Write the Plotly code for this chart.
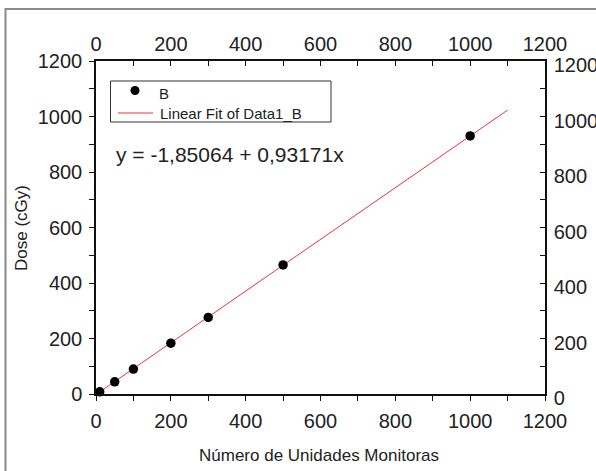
import plotly.graph_objects as go

# ---- data ----
mu = [10, 50, 100, 200, 300, 500, 1000]
dose = [8, 44, 90, 183, 276, 465, 930]
fit_x = [0, 1100]
intercept = -1.85064
slope = 0.93171
fit_y = [intercept + slope * v for v in fit_x]
xticks = [0, 200, 400, 600, 800, 1000, 1200]
yticks = [0, 200, 400, 600, 800, 1000, 1200]

W, H = 596, 471
L, R, T, B = 96, 545, 61, 394

def px(xp):
    return (xp - L) / (R - L)

def py(yp):
    return (B - yp) / (B - T)

FONT = "Liberation Sans, Arial, sans-serif"
TXT = "#222222"

fig = go.Figure()
fig.add_trace(go.Scatter(x=fit_x, y=fit_y, mode="lines",
                         line=dict(color="#ee3333", width=1),
                         showlegend=False, hoverinfo="skip"))
fig.add_trace(go.Scatter(x=mu, y=dose, mode="markers",
                         marker=dict(color="black", size=9.5),
                         cliponaxis=False, showlegend=False))
# invisible trace to activate the top/right axes
fig.add_trace(go.Scatter(x=[0], y=[0], xaxis="x2", yaxis="y2", mode="markers",
                         marker=dict(opacity=0), showlegend=False, hoverinfo="skip"))

ax_common = dict(range=[0, 1200], showgrid=False, zeroline=False, automargin=False,
                 showline=True, linecolor="#111111", linewidth=1.5,
                 tickcolor="#111111", tickwidth=1.2, ticklen=5,
                 tickfont=dict(family=FONT, size=20, color=TXT))

fig.update_layout(
    width=W, height=H,
    margin=dict(l=L, r=W - R, t=T, b=H - B, autoexpand=False),
    paper_bgcolor="white", plot_bgcolor="white",
    xaxis=dict(**ax_common, tickvals=xticks, ticks="outside", side="bottom",
               ticklabelstandoff=3,
               minor=dict(dtick=100, ticks="outside", ticklen=5, tickcolor="#111111")),
    xaxis2=dict(**ax_common, tickvals=xticks, ticks="inside", side="top",
                overlaying="x", anchor="y",
                minor=dict(dtick=100, ticks="inside", ticklen=5, tickcolor="#111111")),
    yaxis=dict(**ax_common, tickvals=yticks, ticks="outside", side="left",
               ticklabelstandoff=3,
               minor=dict(dtick=100, ticks="outside", ticklen=5, tickcolor="#111111")),
    yaxis2=dict(**ax_common, tickvals=yticks, ticks="inside", side="right",
                overlaying="y", anchor="x", ticklabelstandoff=3, ticklabelshift=4,
                minor=dict(dtick=100, ticks="inside", ticklen=5, tickcolor="#111111")),
)

shapes = []
# outer frame
shapes.append(dict(type="rect", xref="paper", yref="paper",
                   x0=px(5.5), x1=px(603), y0=py(9), y1=py(478),
                   line=dict(color="#8a8a8a", width=2), layer="below"))
# legend box
shapes.append(dict(type="rect", xref="paper", yref="paper",
                   x0=px(110.5), x1=px(331), y0=py(81), y1=py(122),
                   line=dict(color="#333333", width=1)))
# legend marker
shapes.append(dict(type="circle", xref="paper", yref="paper",
                   x0=px(130.5), x1=px(139.5), y0=py(86), y1=py(95),
                   fillcolor="black", line=dict(color="black", width=0)))
# legend line sample
shapes.append(dict(type="line", xref="paper", yref="paper",
                   x0=px(118), x1=px(153), y0=py(113), y1=py(113),
                   line=dict(color="#ee3333", width=1)))
fig.update_layout(shapes=shapes)

ann = [
    dict(text="B", x=px(157), y=py(93), xanchor="left", yanchor="middle",
         font=dict(family=FONT, size=15, color=TXT)),
    dict(text="Linear Fit of Data1_B", x=px(158), y=py(113), xanchor="left", yanchor="middle",
         font=dict(family=FONT, size=15, color=TXT)),
    dict(text="y = -1,85064 + 0,93171x", x=px(114), y=py(154), xanchor="left", yanchor="middle",
         font=dict(family=FONT, size=21, color=TXT)),
    dict(text="Número de Unidades Monitoras", x=px(319), y=py(455), xanchor="center", yanchor="middle",
         font=dict(family=FONT, size=17, color=TXT)),
    dict(text="Dose (cGy)", x=px(21), y=py(228), xanchor="center", yanchor="middle",
         textangle=-90, font=dict(family=FONT, size=17, color=TXT)),
]
for a in ann:
    a.update(xref="paper", yref="paper", showarrow=False)
fig.update_layout(annotations=ann)

fig.write_html("out.html")
